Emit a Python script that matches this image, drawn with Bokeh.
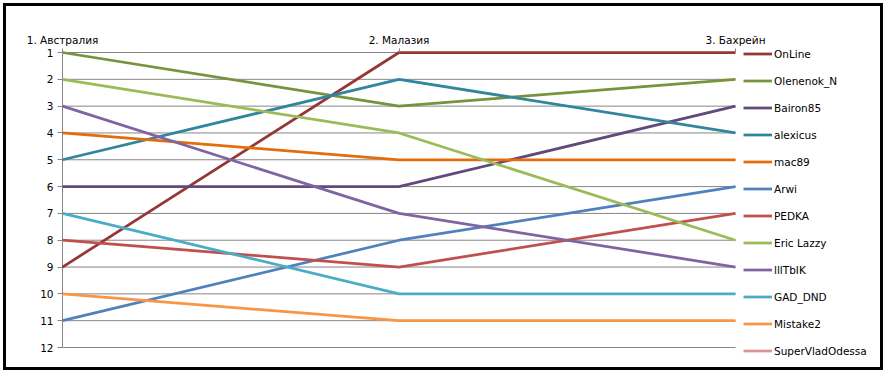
import math
from bokeh.plotting import figure
from bokeh.models import Range1d, FixedTicker, Legend, LegendItem
from bokeh.embed import file_html
from bokeh.resources import INLINE

categories = ["1. Австралия", "2. Малазия", "3. Бахрейн"]
rank_ticks = list(range(1, 13))

series_names = ["OnLine", "Olenenok_N", "Bairon85", "alexicus", "mac89", "Arwi",
                "PEDKA", "Eric Lazzy", "lllTbIK", "GAD_DND", "Mistake2", "SuperVladOdessa"]
series_colors = ["#953735", "#77933C", "#604A7B", "#31859C", "#E46C0A", "#4F81BD",
                 "#C0504D", "#9BBB59", "#8064A2", "#4BACC6", "#F79646", "#D99694"]

OnLine = [9, 1, 1]
Olenenok_N = [1, 3, 2]
Bairon85 = [6, 6, 3]
alexicus = [5, 2, 4]
mac89 = [4, 5, 5]
Arwi = [11, 8, 6]
PEDKA = [8, 9, 7]
Eric_Lazzy = [2, 4, 8]
lllTbIK = [3, 7, 9]
GAD_DND = [7, 10, 10]
Mistake2 = [10, 11, 11]
SuperVladOdessa = [math.nan, math.nan, math.nan]

series_values = [OnLine, Olenenok_N, Bairon85, alexicus, mac89, Arwi,
                 PEDKA, Eric_Lazzy, lllTbIK, GAD_DND, Mistake2, SuperVladOdessa]

FONT = "DejaVu Sans"
FS = "10.5px"
GRID = "#868686"

# layout (canvas pixels)
W, H = 880, 367
B_LEFT, B_TOP, B_RIGHT, B_BOTTOM = 6, 22, 6, 9
PLOT_LEFT = 56    # canvas x of first category
PLOT_W = 673      # pixel span between first and last category
PLOT_TOP = 46     # canvas y of rank 1
PLOT_H = 295      # pixel span between rank 1 and rank 12

xs = list(range(len(categories)))
n_x = len(categories) - 1
frame_w = W - B_LEFT - B_RIGHT
frame_h = H - B_TOP - B_BOTTOM
px_x = PLOT_W / n_x
px_y = PLOT_H / (rank_ticks[-1] - rank_ticks[0])
x_start = xs[0] - (PLOT_LEFT - B_LEFT) / px_x
x_end = x_start + frame_w / px_x
y_top = rank_ticks[0] - (PLOT_TOP - B_TOP) / px_y
y_bottom = y_top + frame_h / px_y

p = figure(width=W, height=H, output_backend="svg", toolbar_location=None,
           x_axis_location="above",
           x_range=Range1d(x_start, x_end), y_range=Range1d(y_bottom, y_top),
           min_border_left=B_LEFT, min_border_top=B_TOP,
           min_border_right=B_RIGHT, min_border_bottom=B_BOTTOM)
p.styles = {"border": "3px solid black", "margin-left": "3px", "margin-top": "3px"}
p.outline_line_color = None
p.background_fill_color = "white"
p.border_fill_color = "white"

xa = p.xaxis[0]
xa.fixed_location = rank_ticks[0]
xa.bounds = (xs[0], xs[-1])
xa.ticker = FixedTicker(ticks=xs)
xa.major_label_overrides = {i: c for i, c in enumerate(categories)}
xa.axis_line_color = None
xa.major_tick_line_color = GRID
xa.major_tick_out = 4
xa.major_tick_in = 0
xa.minor_tick_line_color = None
xa.major_label_text_font = FONT
xa.major_label_text_font_size = FS
xa.major_label_text_color = "black"
xa.major_label_standoff = 3

ya = p.yaxis[0]
ya.fixed_location = xs[0]
ya.bounds = (rank_ticks[0], rank_ticks[-1])
ya.ticker = FixedTicker(ticks=rank_ticks)
ya.axis_line_color = None
ya.major_tick_line_color = GRID
ya.major_tick_out = 5
ya.major_tick_in = 0
ya.minor_tick_line_color = None
ya.major_label_text_font = FONT
ya.major_label_text_font_size = FS
ya.major_label_text_color = "black"
ya.major_label_standoff = 4

p.xgrid.grid_line_color = None
p.ygrid.grid_line_color = None

# horizontal gridlines between first and last category, and the value axis line
p.segment(x0=[xs[0]] * len(rank_ticks), x1=[xs[-1]] * len(rank_ticks),
          y0=rank_ticks, y1=rank_ticks, line_color=GRID, line_width=1)
p.segment(x0=[xs[0]], x1=[xs[0]], y0=[rank_ticks[0]], y1=[rank_ticks[-1]],
          line_color=GRID, line_width=1)

items = []
for name, color, vals in zip(series_names, series_colors, series_values):
    r = p.line(xs, vals, line_color=color, line_width=2.75)
    items.append(LegendItem(label=name, renderers=[r]))

legend = Legend(items=items, location=(PLOT_LEFT - B_LEFT + PLOT_W + 8, 0),
                orientation="vertical",
                glyph_width=29, glyph_height=27, label_height=27, spacing=0,
                padding=0, margin=0, label_standoff=2,
                label_text_font=FONT, label_text_font_size=FS, label_text_color="black",
                border_line_color=None, background_fill_alpha=0)
p.add_layout(legend)

open("out.html", "w").write(file_html(p, INLINE))
